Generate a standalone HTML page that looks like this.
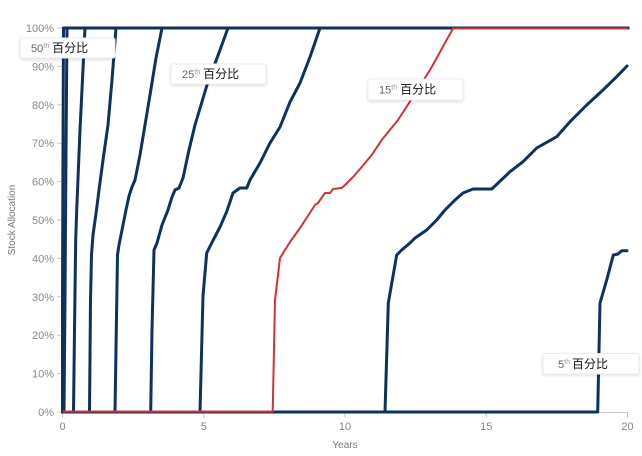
<!DOCTYPE html>
<html><head><meta charset="utf-8"><style>
html,body{margin:0;padding:0;background:#fff;}
svg{display:block;}
text{font-family:"Liberation Sans","Noto Sans CJK SC",sans-serif;}
</style></head><body>
<svg width="642" height="456" viewBox="0 0 642 456" xmlns="http://www.w3.org/2000/svg">
<defs>
<filter id="sh" x="-10%" y="-30%" width="120%" height="170%">
<feDropShadow dx="0" dy="1.5" stdDeviation="1.5" flood-color="#000" flood-opacity="0.12"/>
</filter>
</defs>
<rect width="642" height="456" fill="#fff"/>
<!-- axes -->
<g stroke="#c8c8c8" stroke-width="1" fill="none">
<line x1="62" y1="412.5" x2="628" y2="412.5"/>
<line x1="62.5" y1="28" x2="62.5" y2="412"/>
<line x1="62.5" y1="412" x2="62.5" y2="418"/>
<line x1="203.8" y1="412" x2="203.8" y2="418"/>
<line x1="345" y1="412" x2="345" y2="418"/>
<line x1="486.3" y1="412" x2="486.3" y2="418"/>
<line x1="627.5" y1="412" x2="627.5" y2="418"/>
<line x1="57" y1="412" x2="62" y2="412"/>
<line x1="57" y1="373.6" x2="62" y2="373.6"/>
<line x1="57" y1="335.2" x2="62" y2="335.2"/>
<line x1="57" y1="296.8" x2="62" y2="296.8"/>
<line x1="57" y1="258.4" x2="62" y2="258.4"/>
<line x1="57" y1="220" x2="62" y2="220"/>
<line x1="57" y1="181.6" x2="62" y2="181.6"/>
<line x1="57" y1="143.2" x2="62" y2="143.2"/>
<line x1="57" y1="104.8" x2="62" y2="104.8"/>
<line x1="57" y1="66.4" x2="62" y2="66.4"/>
<line x1="57" y1="28" x2="62" y2="28"/>
</g>
<g font-size="11" fill="#888" text-anchor="end">
<text x="54" y="416">0%</text>
<text x="54" y="377.6">10%</text>
<text x="54" y="339.2">20%</text>
<text x="54" y="300.8">30%</text>
<text x="54" y="262.4">40%</text>
<text x="54" y="224">50%</text>
<text x="54" y="185.6">60%</text>
<text x="54" y="147.2">70%</text>
<text x="54" y="108.8">80%</text>
<text x="54" y="70.4">90%</text>
<text x="54" y="32">100%</text>
</g>
<g font-size="11" fill="#888" text-anchor="middle">
<text x="62.5" y="430">0</text>
<text x="203.8" y="430">5</text>
<text x="345" y="430">10</text>
<text x="486.3" y="430">15</text>
<text x="627.5" y="430">20</text>
<text x="345" y="448" font-size="10" fill="#777">Years</text>
<text x="0" y="0" font-size="10" fill="#777" transform="translate(15,220) rotate(-90)">Stock Allocation</text>
</g>
<!-- blue curves -->
<g fill="none" stroke="#0d3160" stroke-width="3" stroke-linejoin="round" stroke-linecap="round">
<polyline points="62.5,412 62.5,300 63,150 63.5,28 628,28"/>
<polyline points="62.5,412 64,412 65,300 66,150 67,28 628,28"/>
<polyline points="62.5,412 73.5,412 74.5,330 75.7,240 76.7,210 80,130 85,28 628,28"/>
<polyline points="62.5,412 89.5,412 90.5,300 91.5,255 93,235 96.5,210 99,190 103,160 108,125 112,80 116,28 628,28"/>
<polyline points="62.5,412 115,412 116.3,330 117.5,255 119,245 123,225 126,210 129,196 132,187 135,180 140,155 145,125 150,95 156,58 162,28 628,28"/>
<polyline points="62.5,412 150.7,412 152,330 154,250 157,243 162,225 168,210 172,197 175,190 179,188 183,178 189,150 195,125 207,85 220,50 228,28 628,28"/>
<polyline points="62.5,412 200,412 203,296 206.7,253 211.7,243 220,227 226.7,211.7 233,193 240,188 246.7,188 250,180 260,163 270,143 280,127 290,102 300,83 310,57 320,28 628,28"/>
<polyline points="62.5,412 385,412 388.3,303 396.7,255 401.7,250 410,243 415,238 426.7,230 436.7,220 445,210 455,200 463,193 473,189 491.7,189 495,186 510,171.7 523,161.7 536.7,148 556.7,136.7 570,121.7 586.7,105 603,90 616.7,76.7 627,66"/>
<polyline points="62.5,412 597.7,412 599,350 600,303 606.7,280 613.3,255 618,254 621.7,250.7 627,250.7"/>
</g>
<!-- red curve -->
<polyline fill="none" stroke="#d13232" stroke-width="2" stroke-linejoin="round" points="62.5,411.5 272.7,411.5 275,300 280,258 290,242 300,228 315,205 318,203 325,193 330,193 333,189 341.7,188 345,185 353,177 361.7,167 371.7,155 381.7,140 398,120 406.7,106.7 430,70 453,28.5 628,28.5"/>
<!-- labels -->
<g filter="url(#sh)" fill="#fff" stroke="#ececec" stroke-width="1">
<rect x="20" y="38" width="95" height="20" rx="2"/>
<rect x="171" y="64" width="95" height="20" rx="2"/>
<rect x="368" y="79" width="95" height="21" rx="2"/>
<rect x="543" y="353.5" width="96" height="20.5" rx="2"/>
</g>
<g font-size="11">
<text x="31" y="52"><tspan fill="#666">50</tspan><tspan fill="#999" font-size="7" dy="-4">th</tspan><tspan fill="#111" font-size="12" dy="4" dx="3">百分比</tspan></text>
<text x="182" y="78"><tspan fill="#666">25</tspan><tspan fill="#999" font-size="7" dy="-4">th</tspan><tspan fill="#111" font-size="12" dy="4" dx="3">百分比</tspan></text>
<text x="379" y="93.5"><tspan fill="#666">15</tspan><tspan fill="#999" font-size="7" dy="-4">th</tspan><tspan fill="#111" font-size="12" dy="4" dx="3">百分比</tspan></text>
<text x="558" y="368"><tspan fill="#666">5</tspan><tspan fill="#999" font-size="7" dy="-4">th</tspan><tspan fill="#111" font-size="12" dy="4" dx="2">百分比</tspan></text>
</g>
</svg>
</body></html>
